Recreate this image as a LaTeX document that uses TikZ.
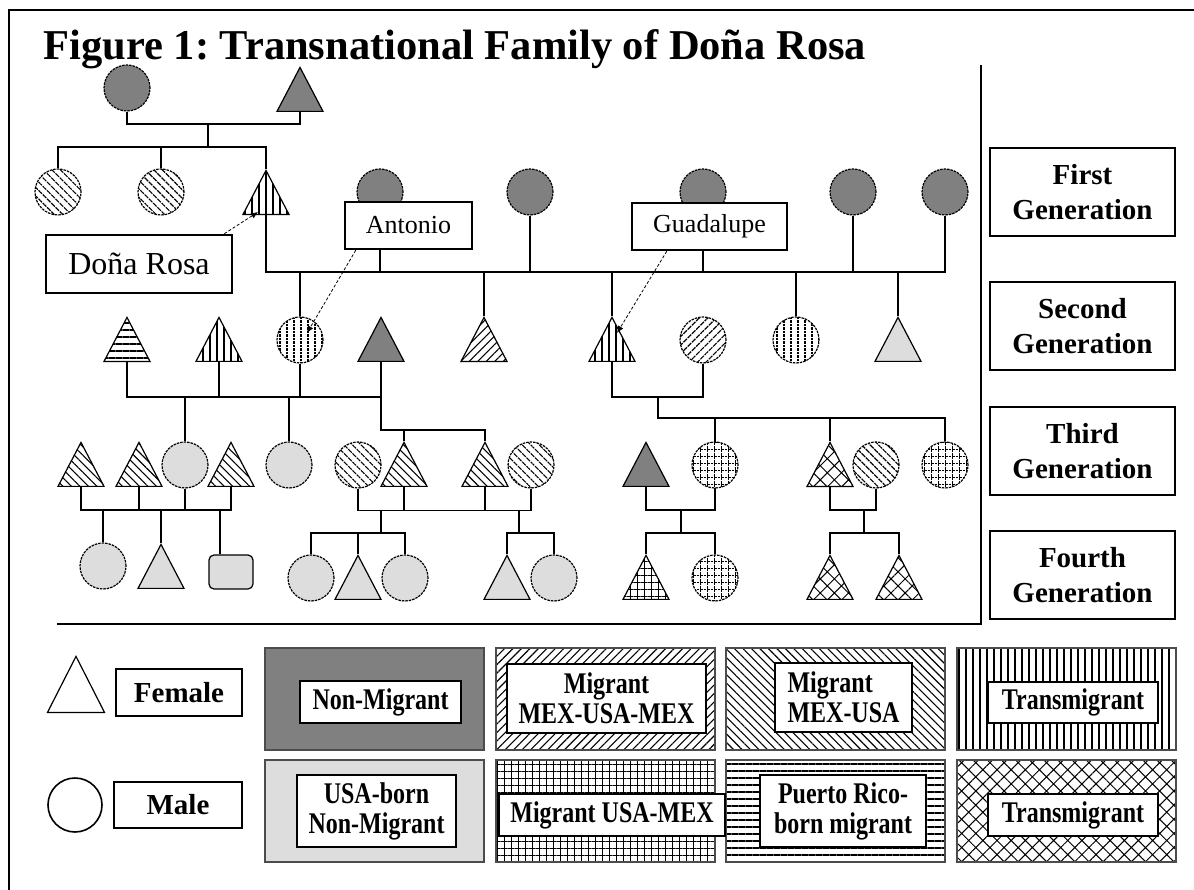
\documentclass[tikz,border=0pt]{standalone}
\usepackage{fontspec}
\setmainfont{Liberation Serif}
\usetikzlibrary{shapes.geometric,patterns.meta,arrows.meta,calc}
\definecolor{nmgray}{RGB}{128,128,128}
\definecolor{usgray}{RGB}{221,221,221}
\newcommand{\tallkey}[1]{\scalebox{1}[1.25]{#1}}

\begin{document}
\begin{tikzpicture}[x=1pt,y=-1pt,line width=1.4pt,
  male/.style={circle,draw,dash pattern=on 2.5pt off 1pt,line width=1.2pt,minimum size=46pt,inner sep=0pt},
  female/.style={isosceles triangle,isosceles triangle stretches,shape border rotate=90,draw,line width=1.2pt,
    minimum width=46pt,minimum height=44pt,inner sep=0pt,anchor=south},
  nonmig/.style={fill=nmgray},
  usaborn/.style={fill=usgray},
  mexusamex/.style={pattern={Lines[angle=45,distance=6pt,line width=1.1pt]}},
  mexusa/.style={pattern={Lines[angle=-45,distance=6pt,line width=1.1pt]}},
  trans/.style={pattern={Lines[angle=90,distance=7pt,line width=1.1pt]}},
  prborn/.style={pattern={Lines[angle=0,distance=7pt,line width=1.1pt]}},
  usamex/.style={pattern={Hatch[angle=0,distance=7pt,line width=0.9pt]}},
  transx/.style={pattern={Hatch[angle=45,distance=10pt,line width=1pt]}},
  namebox/.style={draw,fill=white,line width=2.5pt,inner sep=0pt,font=\fontsize{26}{30}\selectfont},
  genbox/.style={draw,line width=2.8pt,minimum width=185pt,minimum height=88pt,inner sep=0pt,align=center,
    font=\fontsize{29}{35}\selectfont\bfseries},
  block/.style={draw=black!70,line width=1.2pt,minimum width=219pt,minimum height=102pt,inner sep=0pt},
  keytext/.style={draw,fill=white,line width=1.5pt,inner sep=0pt,align=center,font=\fontsize{24}{30}\selectfont\bfseries},
  pointer/.style={densely dashed,line width=0.8pt,-{Latex[length=7pt,width=6pt]}}]

  \useasboundingbox (0,0) rectangle (1194,890);
  \draw[line width=1.5pt] (9,890) -- (9,10) -- (1194,10);
  \node[anchor=base west,inner sep=0pt,font=\fontsize{42.5}{50}\selectfont\bfseries\frenchspacing] (title) at (43,60)
    {Figure 1: Transnational Family of Doña Rosa};
  \draw (981,65) -- (981,624) -- (57,624);

  \node[male,nonmig] (g1m) at (127,88) {};
  \node[female,nonmig] (g1f) at (300,112) {};
  \node[male,mexusa] (g1a) at (58,192) {};
  \node[male,mexusa] (g1b) at (161,192) {};
  \node[female,trans] (rosa) at (266,215) {};
  \node[male,nonmig] (sp1) at (380,192) {};
  \node[male,nonmig] (sp2) at (530,192) {};
  \node[male,nonmig] (sp3) at (703,192) {};
  \node[male,nonmig] (sp4) at (853,192) {};
  \node[male,nonmig] (sp5) at (945,192) {};

  \node[female,prborn] (g2a) at (127,362) {};
  \node[female,trans] (g2b) at (219,362) {};
  \node[male,trans] (antonio) at (300,340) {};
  \node[female,nonmig] (g2d) at (381,362) {};
  \node[female,mexusamex] (g2e) at (484,362) {};
  \node[female,trans] (guad) at (612,362) {};
  \node[male,mexusamex] (g2g) at (703,340) {};
  \node[male,trans] (g2h) at (796,340) {};
  \node[female,usaborn] (g2i) at (898,362) {};

  \node[female,mexusa] (g3a) at (81,487) {};
  \node[female,mexusa] (g3b) at (139,487) {};
  \node[male,usaborn] (g3c) at (185,465) {};
  \node[female,mexusa] (g3d) at (231,487) {};
  \node[male,usaborn] (g3e) at (289,465) {};
  \node[male,mexusa] (g3f) at (358,465) {};
  \node[female,mexusa] (g3g) at (404,487) {};
  \node[female,mexusa] (g3h) at (485,487) {};
  \node[male,mexusa] (g3i) at (531,465) {};
  \node[female,nonmig] (g3j) at (646,487) {};
  \node[male,usamex] (g3k) at (715,465) {};
  \node[female,transx] (g3l) at (830,487) {};
  \node[male,mexusa] (g3m) at (876,465) {};
  \node[male,usamex] (g3n) at (945,465) {};

  \node[male,usaborn] (g4a) at (103,566) {};
  \node[female,usaborn] (g4b) at (161,589) {};
  \node[draw,rounded corners=5pt,usaborn,line width=1.2pt,minimum width=44pt,minimum height=34pt,inner sep=0pt] (g4c) at (231,572) {};
  \node[male,usaborn] (g4d) at (311,578) {};
  \node[female,usaborn] (g4e) at (358,600) {};
  \node[male,usaborn] (g4f) at (405,578) {};
  \node[female,usaborn] (g4g) at (507,600) {};
  \node[male,usaborn] (g4h) at (554,578) {};
  \node[female,usamex] (g4i) at (646,600) {};
  \node[male,usamex] (g4j) at (715,578) {};
  \node[female,transx] (g4k) at (830,600) {};
  \node[female,transx] (g4l) at (899,600) {};

  \coordinate (m1) at (208,124);
  \draw (g1m.south) |- (m1) -| (g1f.south);
  \draw (m1) -- ++(0,23) coordinate (s1);
  \draw (g1a.north) |- (s1) -| (rosa.north);
  \draw (g1b.north) -- (g1b.north |- s1);

  \draw (rosa.south) -- ++(0,57) coordinate (b2) -| (sp5.south);
  \foreach \n in {sp1,sp2,sp3,sp4}
    \draw (\n.south) -- (\n.south |- b2);
  \foreach \n in {antonio,g2e,guad,g2h,g2i}
    \draw (\n.north) -- (\n.north |- b2);

  \draw (g2a.south) -- ++(0,35) coordinate (b3) -| (g2d.south);
  \foreach \n in {g2b,antonio}
    \draw (\n.south) -- (\n.south |- b3);
  \foreach \n in {g3c,g3e}
    \draw (\n.north) -- (\n.north |- b3);
  \draw (g2d.south) -- ++(0,68) coordinate (b4) -| (g3h.north);
  \draw (g3g.north) -- (g3g.north |- b4);

  \draw (guad.south) -- ++(0,35) -| (g2g.south);
  \coordinate (m5) at (658,397);
  \draw (m5) -- ++(0,21) coordinate (b5) -| (g3n.north);
  \foreach \n in {g3k,g3l}
    \draw (\n.north) -- (\n.north |- b5);

  \draw (g3a.south) -- ++(0,23) coordinate (b6) -| (g3d.south);
  \foreach \n in {g3b,g3c}
    \draw (\n.south) -- (\n.south |- b6);
  \foreach \n in {g4a,g4b}
    \draw (\n.north) -- (\n.north |- b6);
  \draw ([xshift=-11pt]g4c.north) -- ([xshift=-11pt]g4c.north |- b6);

  \draw (g3f.south) -- ++(0,22) coordinate (b7) -| (g3i.south);
  \foreach \n in {g3g,g3h}
    \draw (\n.south) -- (\n.south |- b7);
  \coordinate (m7) at (381,510);
  \draw (m7) -- ++(0,23) coordinate (k7);
  \draw (g4d.north) |- (k7) -| (g4f.north);
  \draw (g4e.north) -- (g4e.north |- k7);
  \coordinate (m8) at (519,510);
  \draw (m8) -- ++(0,23) coordinate (k8);
  \draw (g4g.north) |- (k8) -| (g4h.north);

  \draw (g3j.south) -- ++(0,23) -| (g3k.south);
  \coordinate (m9) at (681,510);
  \draw (m9) -- ++(0,23) coordinate (k9);
  \draw (g4i.north) |- (k9) -| (g4j.north);
  \draw (g3l.south) -- ++(0,23) -| (g3m.south);
  \coordinate (m10) at (864,510);
  \draw (m10) -- ++(0,23) coordinate (k10);
  \draw (g4k.north) |- (k10) -| (g4l.north);

  \node[namebox,minimum width=186pt,minimum height=58pt,font=\fontsize{32}{38}\selectfont] (rosabox) at (139,264) {Doña Rosa};
  \node[namebox,minimum width=127pt,minimum height=47pt] (antbox) at (408.5,225.5) {Antonio};
  \node[namebox,minimum width=155pt,minimum height=47pt] (guadbox) at (709.5,226.5) {Guadalupe};
  \draw[pointer] ([xshift=-9pt]rosabox.north east) -- ($(rosa.south)+(-8,-3)$);
  \draw[pointer] ([xshift=12pt]antbox.south west) -- ($(antonio)+(7,-7)$);
  \draw[pointer] ([xshift=36pt]guadbox.south west) -- ($(guad.south)+(5,-29)$);

  \node[genbox] (gen1) at (1082.5,192) {First\\Generation};
  \node[genbox] (gen2) at (1082.5,326) {Second\\Generation};
  \node[genbox] (gen3) at (1082.5,451) {Third\\Generation};
  \node[genbox] (gen4) at (1082.5,575) {Fourth\\Generation};

  \node[female,minimum width=57pt,minimum height=56pt] (lfem) at (76,713) {};
  \node[male,solid,line width=1.6pt,minimum size=54pt] (lmale) at (75,805) {};
  \node[keytext,line width=1.2pt,minimum width=126pt,minimum height=47pt,font=\fontsize{29}{34}\selectfont\bfseries] (tfem) at (179,692.5) {Female};
  \node[keytext,line width=2.5pt,minimum width=128pt,minimum height=46pt,font=\fontsize{29}{34}\selectfont\bfseries] (tmale) at (178,805) {Male};

  \node[block,nonmig] (k1) at (374.5,699) {};
  \node[block,mexusamex] (k2) at (605.5,699) {};
  \node[block,mexusa] (k3) at (835.5,699) {};
  \node[block,trans] (k4) at (1066.5,699) {};
  \node[block,usaborn] (k5) at (374.5,811) {};
  \node[block,usamex] (k6) at (605.5,811) {};
  \node[block,prborn] (k7) at (835.5,811) {};
  \node[block,transx] (k8) at (1066.5,811) {};

  \node[keytext,minimum width=161pt,minimum height=42pt] (t1) at (380.5,702) {\tallkey{Non-Migrant}};
  \node[keytext,minimum width=199pt,minimum height=69pt] (t2) at (606.5,698.5) {\tallkey{Migrant}\\\tallkey{MEX-USA-MEX}};
  \node[keytext,minimum width=137pt,minimum height=69pt,align=left] (t3) at (843.5,697.5) {\tallkey{Migrant}\\\tallkey{MEX-USA}};
  \node[keytext,minimum width=170pt,minimum height=41pt] (t4) at (1073,702.5) {\tallkey{Transmigrant}};
  \node[keytext,minimum width=159pt,minimum height=72pt] (t5) at (376.5,811) {\tallkey{USA-born}\\\tallkey{Non-Migrant}};
  \node[keytext,minimum width=226pt,minimum height=42pt] (t6) at (612,815) {\tallkey{Migrant USA-MEX}};
  \node[keytext,minimum width=166pt,minimum height=72pt] (t7) at (843,811) {\tallkey{Puerto Rico-}\\\tallkey{born migrant}};
  \node[keytext,minimum width=170pt,minimum height=42pt] (t8) at (1073,815) {\tallkey{Transmigrant}};
\end{tikzpicture}
\end{document}
